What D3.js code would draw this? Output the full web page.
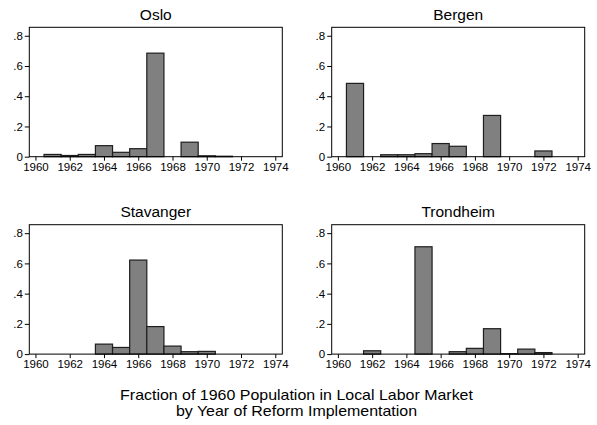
<!DOCTYPE html>
<html>
<head>
<meta charset="utf-8">
<script src="https://cdn.jsdelivr.net/npm/d3@7"></script>
<style>
	body { margin: 0; background: #fff; }
	svg text { font-family: "Liberation Sans", Arial, Helvetica, sans-serif; fill: #000; }
	.axis path { display: none; }
	.axis line { stroke: #000; }
</style>
</head>
<body>
<div id="chart"></div>
<script>
// reform year categories and share of 1960 population, per local labour market
var years = [1961, 1962, 1963, 1964, 1965, 1966, 1967, 1968, 1969, 1970, 1971, 1972];
var oslo      = [0.015, 0.008, 0.015, 0.073, 0.029, 0.053, 0.685, 0, 0.096, 0.006, 0.003, 0];
var bergen    = [0.485, 0, 0.013, 0.013, 0.020, 0.087, 0.069, 0, 0.273, 0, 0, 0.038];
var stavanger = [0, 0, 0, 0.066, 0.044, 0.622, 0.182, 0.053, 0.016, 0.018, 0, 0];
var trondheim = [0, 0.022, 0, 0, 0.710, 0, 0.016, 0.038, 0.168, 0.003, 0.033, 0.010];
var cities = ['Oslo', 'Bergen', 'Stavanger', 'Trondheim'];
var series = [oslo, bergen, stavanger, trondheim];
var xTicks = [1960, 1962, 1964, 1966, 1968, 1970, 1972, 1974];
var yTicks = [0, 0.2, 0.4, 0.6, 0.8];
var caption = ['Fraction of 1960 Population in Local Labor Market', 'by Year of Reform Implementation'];

var W = 597, H = 425;
var boxW = 253, boxH = 129.4;

var svg = d3.select('#chart').append('svg').attr('width', W).attr('height', H);

var xScale = d3.scaleLinear().domain([1959.64, 1974.41]).range([0, boxW]);
var yScale = d3.scaleLinear().domain([0, 0.856]).range([boxH, 0]);

var xAxis = d3.axisBottom(xScale).tickValues(xTicks).tickSize(4).tickPadding(2)
	.tickFormat(d3.format('d'));
var yAxis = d3.axisLeft(yScale).tickValues(yTicks).tickSize(4.5).tickPadding(2)
	.tickFormat(function(d) { return d === 0 ? '0' : d3.format('.1f')(d).replace(/^0/, ''); });

cities.forEach(function(name, i) {
	var col = i % 2, row = Math.floor(i / 2);
	var left = 29.3 + col * 302.4;
	var top = 27.3 + row * 197.4;
	var g = svg.append('g').attr('transform', 'translate(' + left + ',' + top + ')');

	var data = years.map(function(y, k) { return {year: y, v: series[i][k]}; })
		.filter(function(d) { return d.v > 0; });

	// bars, one year wide, centred on the year
	g.selectAll('rect.bar')
		.data(data)
		.enter()
		.append('rect')
		.attr('class', 'bar')
		.attr('x', function(d) { return xScale(d.year - 0.5); })
		.attr('width', function(d) { return xScale(d.year + 0.5) - xScale(d.year - 0.5); })
		.attr('y', function(d) { return yScale(d.v); })
		.attr('height', function(d) { return boxH - yScale(d.v); })
		.attr('fill', '#808080')
		.attr('stroke', '#1e1e1e')
		.attr('stroke-width', 1.2);

	// frame
	g.append('rect')
		.attr('width', boxW).attr('height', boxH)
		.attr('fill', 'none').attr('stroke', '#000').attr('stroke-width', 1);

	g.append('g')
		.attr('class', 'x axis')
		.attr('transform', 'translate(0,' + boxH + ')')
		.call(xAxis)
		.selectAll('text').style('font-size', '11.5px');

	g.append('g')
		.attr('class', 'y axis')
		.call(yAxis)
		.selectAll('text').style('font-size', '11.5px');

	g.append('text')
		.attr('x', boxW / 2)
		.attr('y', -7.3)
		.attr('text-anchor', 'middle')
		.style('font-size', '15.5px')
		.text(name);
});

// caption, glyphs a little wider than the font gives, as in the original
svg.selectAll('text.caption')
	.data(caption)
	.enter()
	.append('text')
	.attr('class', 'caption')
	.attr('transform', function(d, i) { return 'translate(296.5,' + (400 + i * 16) + ') scale(1.14,1)'; })
	.attr('text-anchor', 'middle')
	.style('font-size', '14px')
	.text(function(d) { return d; });
</script>
</body>
</html>
